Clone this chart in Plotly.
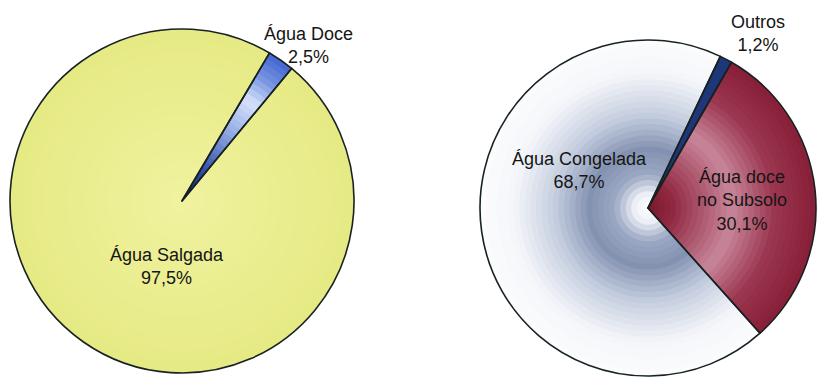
import plotly.graph_objects as go

# Distribution of water on Earth
total_labels = ["Água Doce", "Água Salgada"]
total_values = [2.5, 97.5]

fresh_labels = ["Outros", "Água doce<br>no Subsolo", "Água Congelada"]
fresh_values = [1.2, 30.1, 68.7]

W, H = 817, 380
N_RINGS = 30

# radial colour stops per slice (normalised radius, rgb)
total_stops = [
    [(0.0, (25, 45, 110)), (0.2, (45, 75, 165)), (0.5, (150, 175, 230)),
     (0.7, (215, 225, 250)), (0.85, (120, 150, 225)), (1.0, (65, 100, 210))],
    [(0.0, (240, 242, 160)), (0.6, (234, 237, 142)), (1.0, (230, 234, 132))],
]
fresh_stops = [
    [(0.0, (30, 55, 120)), (1.0, (30, 55, 120))],
    [(0.0, (120, 25, 45)), (0.15, (145, 40, 65)), (0.5, (200, 135, 155)),
     (0.75, (155, 55, 80)), (1.0, (135, 30, 55))],
    [(0.0, (255, 255, 255)), (0.08, (238, 241, 247)), (0.2, (155, 168, 196)),
     (0.35, (132, 146, 177)), (0.55, (195, 204, 222)), (0.8, (244, 246, 250)),
     (1.0, (252, 252, 253))],
]


def colour_at(stops, r):
    for (r0, c0), (r1, c1) in zip(stops[:-1], stops[1:]):
        if r0 <= r <= r1:
            t = (r - r0) / (r1 - r0) if r1 > r0 else 0
            c = [round(a + (b - a) * t) for a, b in zip(c0, c1)]
            return f"rgb({c[0]},{c[1]},{c[2]})"
    c = stops[-1][1]
    return f"rgb({c[0]},{c[1]},{c[2]})"


def domain(cx, cy, rad):
    return dict(x=[(cx - rad) / W, (cx + rad) / W],
                y=[1 - (cy + rad) / H, 1 - (cy - rad) / H])


def shaded_pie(fig, labels, values, stops, cx, cy, R, rotation):
    # stacked discs, largest first, give a radial shading to each slice
    for i in range(N_RINGS):
        frac = 1 - i / N_RINGS
        rmid = frac - 0.5 / N_RINGS
        fig.add_trace(go.Pie(
            labels=labels, values=values, sort=False, direction="clockwise",
            rotation=rotation, domain=domain(cx, cy, R * frac),
            marker=dict(colors=[colour_at(s, rmid) for s in stops],
                        line=dict(width=0)),
            textinfo="none", hoverinfo="skip", showlegend=False,
        ))
    # outline and slice borders
    fig.add_trace(go.Pie(
        labels=labels, values=values, sort=False, direction="clockwise",
        rotation=rotation, domain=domain(cx, cy, R),
        marker=dict(colors=["rgba(0,0,0,0)"] * len(values),
                    line=dict(color="#182222", width=1.6)),
        textinfo="none", hoverinfo="label+percent", showlegend=False,
    ))


def pct(v):
    return f"{v:.1f}".replace(".", ",") + "%"


fig = go.Figure()
shaded_pie(fig, total_labels, total_values, total_stops, 182, 201, 172, 30.6)
shaded_pie(fig, fresh_labels, fresh_values, fresh_stops, 648, 208, 168, 25.5)

font = dict(family="Liberation Sans, Arial, sans-serif", size=18, color="#151515")
notes = [
    (total_labels[0], total_values[0], 308, 45),
    (total_labels[1], total_values[1], 167, 266),
    (fresh_labels[0], fresh_values[0], 758, 33),
    (fresh_labels[1], fresh_values[1], 742, 200),
    (fresh_labels[2], fresh_values[2], 579, 171),
]
for lab, val, x, y in notes:
    fig.add_annotation(text=f"{lab}<br>{pct(val)}", x=x / W, y=1 - y / H,
                       xref="paper", yref="paper", showarrow=False,
                       font=font, align="center", xanchor="center", yanchor="middle")

fig.update_layout(width=W, height=H, margin=dict(l=0, r=0, t=0, b=0),
                  paper_bgcolor="white", plot_bgcolor="white")
fig.write_html("out.html")
